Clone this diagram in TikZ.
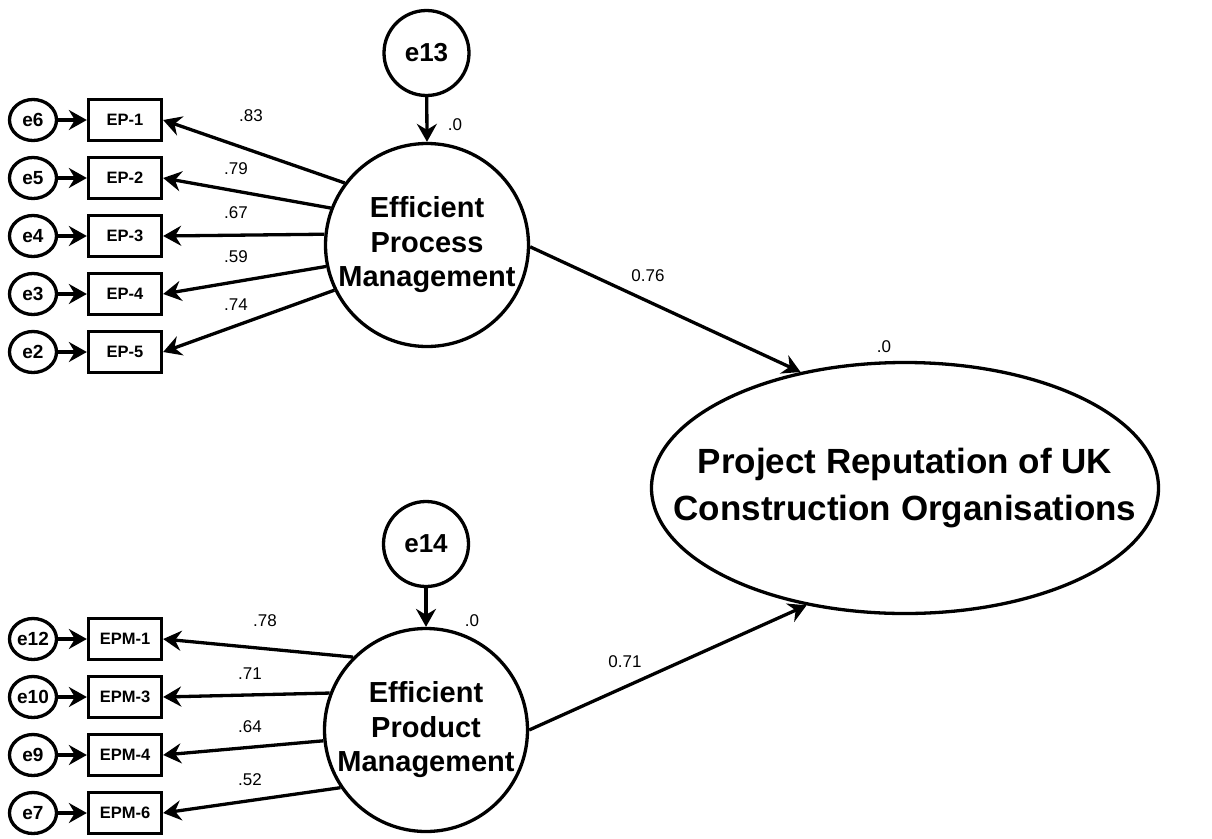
\documentclass[tikz,border=0pt]{standalone}
\usepackage{fontspec}
\setmainfont{Liberation Sans}
\usetikzlibrary{arrows.meta,shapes.geometric}
\begin{document}
\begin{tikzpicture}[x=1pt,y=-1pt,
  every node/.style={inner sep=0pt},
  conn/.style={line width=3.3pt,-{Stealth[length=18pt,width=20pt,inset=6pt]}},
  errsmall/.style={ellipse,draw,line width=3.3pt,minimum width=47pt,minimum height=41pt,
    font=\bfseries\fontsize{19}{22}\selectfont},
  errbig/.style={circle,draw,line width=3.3pt,minimum size=85pt,
    font=\bfseries\fontsize{26}{30}\selectfont},
  item/.style={rectangle,draw,line width=3.3pt,minimum width=73pt,minimum height=41pt,
    font=\bfseries\fontsize{16.5}{20}\selectfont},
  latent/.style={circle,draw,line width=3.3pt,minimum size=203pt,align=center,
    font=\bfseries\fontsize{29}{34.5}\selectfont},
  outcome/.style={ellipse,draw,line width=3.3pt,minimum width=507pt,minimum height=251pt},
  bigtext/.style={align=center,font=\bfseries\fontsize{35}{47}\selectfont},
  coef/.style={font=\fontsize{17}{20}\selectfont}]
\useasboundingbox (0,0) rectangle (1212,838);

% latent constructs
\node[latent] (EPR) at (427,245) {Efficient\\Process\\Management};
\node[latent] (EPD) at (426,730) {Efficient\\Product\\Management};
\node[outcome] (PR) at (905,488) {};
\node[bigtext] (PRt) at (905,488) {Project Reputation of UK\\Construction Organisations};

% disturbance terms
\node[errbig] (e13) at (426.5,53) {e13};
\node[errbig] (e14) at (426,544) {e14};
\draw[conn] (e13) -- (EPR.north);
\draw[conn] (e14) -- (EPD.north);
\node[coef] (d13) at (455,125) {.0};
\node[coef] (d14) at (472,621) {.0};
\node[coef] (dPR) at (884,347) {.0};

% indicators of process management
\foreach \n/\e/\y/\a/\v/\lx/\ly in {
  EP-1/e6/120/143.1/.83/251/116,
  EP-2/e5/178/159.7/.79/236/169,
  EP-3/e4/236/174.5/.67/236/213,
  EP-4/e3/294/192.2/.59/236/257,
  EP-5/e2/352/206.8/.74/236/305}{
  \node[item] (b\n) at (125,\y) {\n};
  \node[errsmall] (c\e) at (33,\y) {\e};
  \draw[conn] (c\e) -- (b\n.west);
  \draw[conn] (EPR.\a) -- (b\n.east);
  \node[coef] (l\n) at (\lx,\ly) {\v};
}

% indicators of product management
\foreach \n/\e/\y/\a/\v/\lx/\ly in {
  EPM-1/e12/639/135.8/.78/265/621,
  EPM-3/e10/697/159.5/.71/250/674,
  EPM-4/e9/755/186.6/.64/250/727,
  EPM-6/e7/813/214.3/.52/250/780}{
  \node[item] (b\n) at (125,\y) {\n};
  \node[errsmall] (c\e) at (33,\y) {\e};
  \draw[conn] (c\e) -- (b\n.west);
  \draw[conn] (EPD.\a) -- (b\n.east);
  \node[coef] (l\n) at (\lx,\ly) {\v};
}

% structural paths
\draw[conn] (EPR.-1) -- (PR.132.4);
\draw[conn] (EPD.0) -- (PR.230);
\node[coef] (p1) at (648,276) {0.76};
\node[coef] (p2) at (625,662) {0.71};
\end{tikzpicture}
\end{document}
